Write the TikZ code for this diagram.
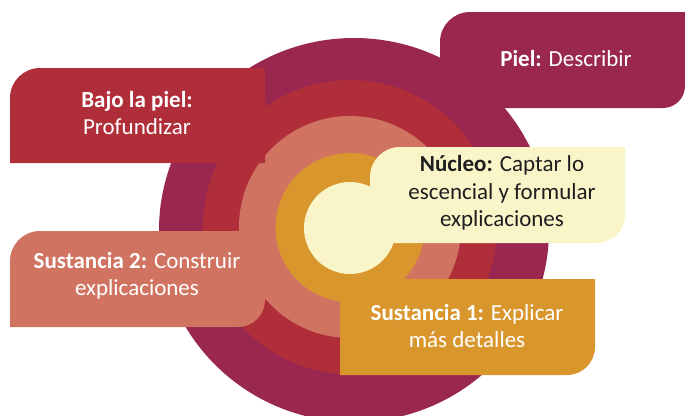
\documentclass[tikz,border=0pt]{standalone}
\usepackage{fontspec}
\setmainfont{Carlito}
\definecolor{cpurple}{HTML}{9A2750}
\definecolor{cred}{HTML}{B02E3A}
\definecolor{csalmon}{HTML}{D07461}
\definecolor{corange}{HTML}{D9962D}
\definecolor{ccream}{HTML}{FAF5C9}
\definecolor{ctext}{HTML}{1E1E1E}
\tikzset{
  lbl/.style={align=center, inner sep=0pt, font=\fontsize{23}{27.5}\selectfont},
  lblw/.style={lbl, text=white},
  lblk/.style={lbl, text=ctext}
}
\begin{document}
\begin{tikzpicture}[x=1pt,y=-1pt]
\useasboundingbox (0,0) rectangle (685,415);
% concentric rings
\fill[cpurple] (354,230) ellipse [x radius=195, y radius=192];
\fill[cred] (350,227) circle [radius=147];
\fill[csalmon] (350,227) circle [radius=111];
\fill[corange] (350,227.5) circle [radius=74.5];
\fill[ccream] (350,228) circle [radius=46];
% boxes
\fill[cpurple] (440,108) -- (440,42) arc(180:270:30) -- (685,12) -- (685,86) arc(0:90:22) -- cycle;
\fill[cred] (10,163) -- (10,98) arc(180:270:30) -- (265,68) -- (265,163) -- cycle;
\fill[csalmon] (10,327) -- (10,261) arc(180:270:30) -- (265,231) -- (265,300) arc(0:90:27) -- cycle;
\fill[ccream] (370,243) -- (370,177) arc(180:270:30) -- (625,147) -- (625,215) arc(0:90:28) -- cycle;
\fill[corange] (340,279) -- (595,279) -- (595,347) arc(0:90:28) -- (340,375) -- cycle;
% labels
\node[lblw] (piel) at (566,59) {\textbf{Piel:} Describir};
\node[lblw] (bajo) at (137,113) {\textbf{Bajo la piel:}\\Profundizar};
\node[lblw] (sus2) at (137,276) {\textbf{Sustancia 2:} Construir\\explicaciones};
\node[lblk] (nucleo) at (502,193) {\textbf{Núcleo:} Captar lo\\escencial y formular\\explicaciones};
\node[lblw] (sus1) at (467,326) {\textbf{Sustancia 1:} Explicar\\más detalles};
\end{tikzpicture}
\end{document}
